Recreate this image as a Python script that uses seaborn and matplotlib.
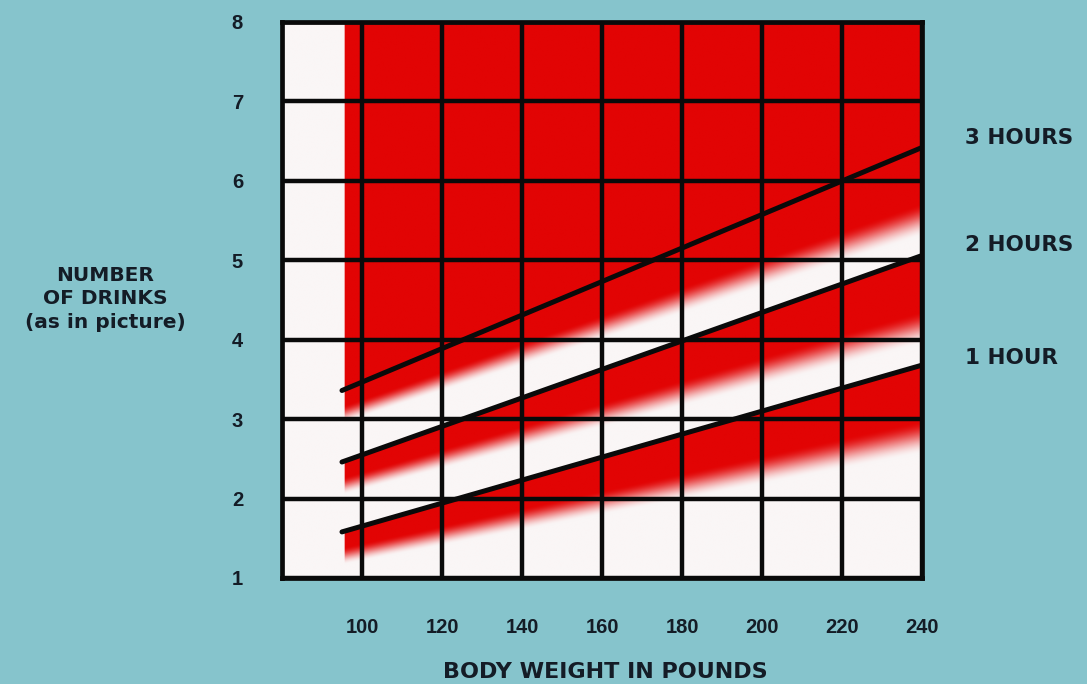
import numpy as np
import pandas as pd
import matplotlib
matplotlib.use("Agg")
import matplotlib.pyplot as plt
import seaborn as sns

# --- data ---
hour_labels = ["1 HOUR", "2 HOURS", "3 HOURS"]
start_weight = 95
end_weight = 240
start_drinks = [1.58, 2.46, 3.36]
end_drinks = [3.68, 5.06, 6.42]
weight_ticks = [100, 120, 140, 160, 180, 200, 220, 240]
drink_ticks = [1, 2, 3, 4, 5, 6, 7, 8]

BG = "#86c4cc"
RED = np.array([226, 4, 4]) / 255.0
WHITE = np.array([250, 246, 246]) / 255.0
INK = "#141c26"

sns.set_theme(style="white")
plt.rcParams["font.family"] = ["Liberation Sans", "DejaVu Sans"]

fig = plt.figure(figsize=(10.87, 6.84), dpi=100, facecolor=BG)
ax = fig.add_axes([0.2594, 0.155, 0.589, 0.813])
ax.set_facecolor("white")

# --- red shading: solid above the 3 hour line, fading band below each line ---
xs = np.linspace(80, 240, 900)
ys = np.linspace(1, 8, 800)
X, Y = np.meshgrid(xs, ys)
t = np.clip((X - start_weight) / (end_weight - start_weight), 0, 1)
lines = [s + (e - s) * t for s, e in zip(start_drinks, end_drinks)]
red = np.zeros_like(X)
solid = 0.20 + 0.50 * t
fade_end = 0.42 + 0.70 * t
lower = np.ones_like(X)
for L in lines:
    band = (Y < L) & (Y >= lower)
    d = L - Y
    v = np.clip((fade_end - d) / (fade_end - solid), 0, 1)
    v = v * v * (3 - 2 * v)
    red = np.where(band, v, red)
    lower = L
red = np.where(Y >= lines[-1], 1.0, red)
red = np.where(X < 95.6, 0.0, red)
img = WHITE[None, None, :] * (1 - red[..., None]) + RED[None, None, :] * red[..., None]
ax.imshow(img, extent=[80, 240, 1, 8], origin="lower", aspect="auto",
          interpolation="bilinear", zorder=0)

# --- the three hour lines ---
rows = []
for lab, s, e in zip(hour_labels, start_drinks, end_drinks):
    rows.append({"hours": lab, "weight": start_weight, "drinks": s})
    rows.append({"hours": lab, "weight": end_weight, "drinks": e})
df = pd.DataFrame(rows)
sns.lineplot(data=df, x="weight", y="drinks", units="hours", estimator=None,
             color="#0a0a0a", linewidth=3.6, ax=ax, zorder=4, legend=False)

ax.set_xlim(80, 240)
ax.set_ylim(1, 8)
ax.set_xticks(weight_ticks)
ax.set_yticks(drink_ticks)
ax.set_xticklabels([str(w) for w in weight_ticks])
ax.set_yticklabels([str(d) for d in drink_ticks])
ax.grid(True, color="#0a0a0a", linewidth=3.2, zorder=3)
ax.set_axisbelow(False)
for sp in ax.spines.values():
    sp.set_color("#0a0a0a")
    sp.set_linewidth(3.4)
    sp.set_zorder(5)
ax.tick_params(axis="both", length=0, labelsize=14.5, labelcolor=INK)
ax.tick_params(axis="x", pad=29)
ax.tick_params(axis="y", pad=28)
for lab in ax.get_xticklabels() + ax.get_yticklabels():
    lab.set_fontweight("bold")

ax.set_xlabel("")
ax.set_ylabel("")
word_font = ["DejaVu Sans"]
fig.text(0.557, 1 - 672 / 684, "BODY WEIGHT IN POUNDS", ha="center", va="center",
         fontsize=16, fontweight="bold", color=INK, family=word_font)
fig.text(0.097, 1 - 299 / 684, "NUMBER\nOF DRINKS\n(as in picture)", ha="center",
         va="center", fontsize=14.5, fontweight="bold", color=INK,
         linespacing=1.3, family=word_font)

# hour labels to the right of the chart
label_y = [358, 245, 138]
for lab, yp in zip(hour_labels, label_y):
    fig.text(965 / 1087, 1 - yp / 684, lab, ha="left", va="center",
             fontsize=15.5, fontweight="bold", color=INK, family=word_font)

fig.savefig("out.png", dpi=100, facecolor=BG)
